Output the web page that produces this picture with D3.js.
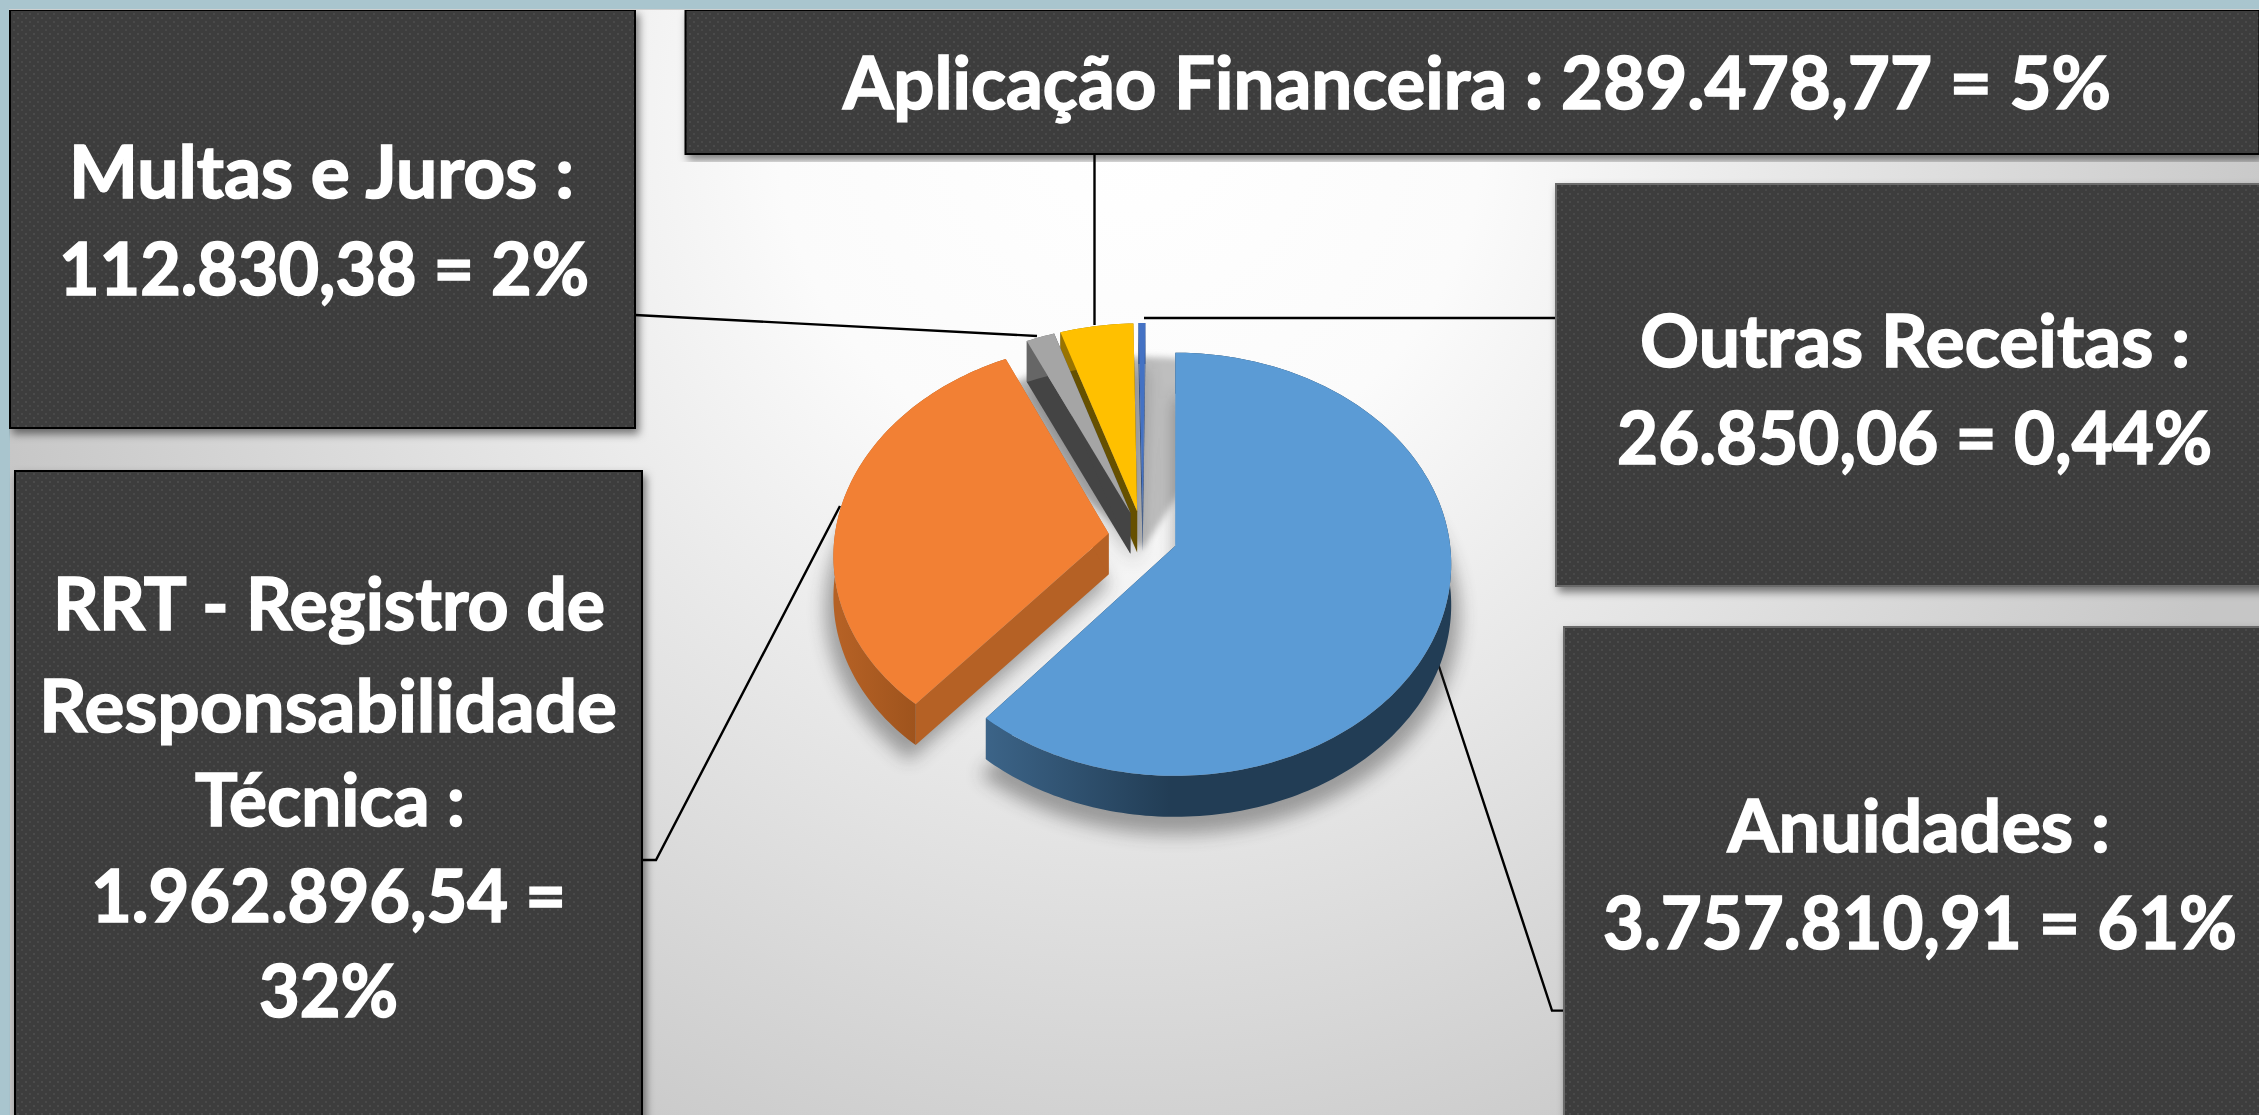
<!DOCTYPE html>
<html><head><meta charset="utf-8">
<script src="https://cdn.jsdelivr.net/npm/d3@7/dist/d3.min.js"></script>
<style>html,body{margin:0;padding:0;background:#a9c5ce;overflow:hidden}svg{display:block}</style>
</head><body><svg id="c" width="2259" height="1115"></svg>
<script>
// ---- data ----
const categories=["Anuidades","RRT - Registro de Responsabilidade Técnica","Multas e Juros","Aplicação Financeira","Outras Receitas"];
const values=[3757810.91,1962896.54,112830.38,289478.77,26850.06];
const percentLabels=["61%","32%","2%","5%","0,44%"];
const topColors=["#5B9BD5","#F28034","#A5A5A5","#FFC000","#4472C4"];
const wallColors=["#223D55","#B56125","#444444","#665000","#2A4A80"];
const outerColors=["url(#gBlue)","url(#gOrange)","#666666","#997300","#2A4A80"];

// ---- layout ----
const W=2259,H=1115;
const svg=d3.select("#c");
const defs=svg.append("defs");
const fmt=d3.formatLocale({decimal:",",thousands:".",grouping:[3],currency:["",""]}).format(",.2f");
const vs=values.map(fmt);

const cx=1177,cy=546,a=275,b=210,k=0.0862,depth=41,explode=0.126,c0=[-0.125,-0.043];
const project=(u,w,dy=0)=>{const den=1-k*w;return [cx+a*u/den,cy+b*w/den+dy];};
const line=d3.line();
const pie=d3.pie().sort(null).value(d=>d)(values);

function arcPts(s,e,o,dy,r=1){
  const n=Math.max(2,Math.ceil((e-s)/0.02));
  return d3.range(n+1).map(i=>{const t=s+(e-s)*i/n;return project(o[0]+r*Math.sin(t),o[1]-r*Math.cos(t),dy);});
}
const off=d=>{const m=(d.startAngle+d.endAngle)/2;return [c0[0]+explode*Math.sin(m),c0[1]-explode*Math.cos(m)];};

// gradients, filters, pattern
const bg=defs.append("radialGradient").attr("id","bg").attr("gradientUnits","userSpaceOnUse")
  .attr("cx",1130).attr("cy",120).attr("r",1180);
bg.append("stop").attr("offset",0).attr("stop-color","#ffffff");
bg.append("stop").attr("offset",0.3).attr("stop-color","#fbfbfb");
bg.append("stop").attr("offset",1).attr("stop-color","#c6c6c6");
const gb=defs.append("linearGradient").attr("id","gBlue").attr("gradientUnits","userSpaceOnUse")
  .attr("x1",985).attr("x2",1170).attr("y1",0).attr("y2",0);
gb.append("stop").attr("offset",0).attr("stop-color","#3C6488");
gb.append("stop").attr("offset",1).attr("stop-color","#223D55");
const go=defs.append("linearGradient").attr("id","gOrange").attr("gradientUnits","userSpaceOnUse")
  .attr("x1",840).attr("x2",925).attr("y1",0).attr("y2",0);
go.append("stop").attr("offset",0).attr("stop-color","#B56125");
go.append("stop").attr("offset",1).attr("stop-color","#9C521C");
defs.append("filter").attr("id","blur").attr("x","-20%").attr("y","-20%").attr("width","140%").attr("height","140%")
  .append("feGaussianBlur").attr("stdDeviation",9);
defs.append("filter").attr("id","blur2").attr("x","-20%").attr("y","-20%").attr("width","140%").attr("height","140%")
  .append("feGaussianBlur").attr("stdDeviation",3);
const ds=defs.append("filter").attr("id","boxShadow").attr("x","-5%").attr("y","-5%").attr("width","110%").attr("height","110%");
ds.append("feDropShadow").attr("dx",3).attr("dy",5).attr("stdDeviation",4).attr("flood-color","#000").attr("flood-opacity",0.5);
const pat=defs.append("pattern").attr("id","dots").attr("patternUnits","userSpaceOnUse").attr("width",8).attr("height",8);
pat.append("rect").attr("width",8).attr("height",8).attr("fill","#3E3E3E");
pat.append("rect").attr("x",1).attr("y",1).attr("width",2).attr("height",2).attr("fill","#4B4B4B");
pat.append("rect").attr("x",5).attr("y",5).attr("width",2).attr("height",2).attr("fill","#484848");

// background
svg.append("rect").attr("width",W).attr("height",H).attr("fill","#A9C5CE");
svg.append("rect").attr("x",10).attr("y",9).attr("width",W-10).attr("height",H-9).attr("fill","#cfcfcf");
svg.append("rect").attr("x",10).attr("y",10).attr("width",W-10).attr("height",H-10).attr("fill","url(#bg)");

// leaders
const leaders=[
  [[635,315],[1037,336]],
  [[1094.5,154],[1094.5,325]],
  [[1556,318],[1144,318]],
  [[642,860],[656,860],[840,506]],
  [[1437.5,662],[1552,1010.6],[1564,1010.6]]
];
svg.append("g").selectAll("path").data(leaders).join("path")
  .attr("d",d=>line(d)).attr("fill","none").attr("stroke","#000").attr("stroke-width",2.4);

// shadows
const sh=svg.append("g");
sh.append("path").attr("d",line(arcPts(-0.72,0.45,c0,12).concat([project(c0[0],c0[1],12)]))+"Z")
  .attr("fill","#BEBEBE").attr("filter","url(#blur2)");
sh.append("g").attr("filter","url(#blur)").attr("opacity",0.42).selectAll("path").data(pie).join("path")
  .attr("d",d=>{
    const o=off(d);
    const pts=arcPts(d.startAngle,d.endAngle,o,depth+10,1.03).concat([project(o[0],o[1],depth+10)]);
    return line(pts)+"Z";
  }).attr("fill","#333");

// slices: back to front
const drawOrder=[4,3,2,1,0];
const gSlices=svg.append("g").selectAll("g").data(drawOrder.map(i=>({...pie[i],idx:i}))).join("g");
gSlices.each(function(d){
  const g=d3.select(this),o=off(d),i=d.idx;
  const top=arcPts(d.startAngle,d.endAngle,o,0),bot=arcPts(d.startAngle,d.endAngle,o,depth);
  const ap=project(o[0],o[1],0),apB=project(o[0],o[1],depth);
  // radial walls
  [[top[0],bot[0]],[top[top.length-1],bot[bot.length-1]]].forEach(e=>{
    g.append("path").attr("d",line([ap,e[0],e[1],apB])+"Z").attr("fill",wallColors[i]);
  });
  // outer wall
  g.append("path").attr("d",line(top.concat(bot.slice().reverse()))+"Z").attr("fill",outerColors[i]);
  // top face
  g.append("path").attr("d",line(top.concat([ap]))+"Z").attr("fill",topColors[i]);
});

// boxes
const boxes=[
  {x:10,y:10,w:625,h:418,s:"#000"},
  {x:685.5,y:10,w:W-685,h:144,s:"#000"},
  {x:15,y:471,w:627,h:H+20-471,s:"#000"},
  {x:1556,y:184,w:W-1556+10,h:402,s:"#6a6a6a"},
  {x:1564,y:627,w:W-1564+10,h:H+20-627,s:"#6a6a6a"}
];
svg.append("g").selectAll("rect").data(boxes).join("rect")
  .attr("x",d=>d.x).attr("y",d=>d.y).attr("width",d=>d.w).attr("height",d=>d.h)
  .attr("fill","url(#dots)").attr("stroke",d=>d.s).attr("stroke-width",2).attr("filter","url(#boxShadow)");
// keep frame clean on top
svg.append("rect").attr("width",W).attr("height",9).attr("fill","#A9C5CE");
svg.append("rect").attr("y",9).attr("width",W).attr("height",1).attr("fill","#cfcfcf");
svg.append("rect").attr("width",9).attr("height",H).attr("fill","#A9C5CE");

// labels (text composed from data)
const labelRows=[
  {t:`${categories[2]} :`,x0:69,x1:574,y:198},
  {t:`${vs[2]} = ${percentLabels[2]}`,x0:59,x1:589,y:295},
  {t:`${categories[3]} : ${vs[3]} = ${percentLabels[3]}`,x0:843,x1:2111,y:109},
  {t:`${categories[4]} :`,x0:1640,x1:2190,y:367},
  {t:`${vs[4]} = ${percentLabels[4]}`,x0:1617,x1:2212,y:464},
  {t:`${categories[0]} :`,x0:1727.5,x1:2110,y:852},
  {t:`${vs[0]} = ${percentLabels[0]}`,x0:1603,x1:2237,y:949},
  {t:"RRT - Registro de",x0:53,x1:605,y:630},
  {t:"Responsabilidade",x0:39,x1:617,y:732},
  {t:"Técnica :",x0:195,x1:465,y:826},
  {t:`${vs[1]} =`,x0:91,x1:566,y:922},
  {t:percentLabels[1],x0:259,x1:398,y:1017}
];
svg.append("g").selectAll("text").data(labelRows).join("text")
  .attr("x",d=>d.x0).attr("y",d=>d.y).text(d=>d.t)
  .attr("textLength",d=>d.x1-d.x0).attr("lengthAdjust","spacingAndGlyphs")
  .attr("font-family","Lato, 'Open Sans', sans-serif").attr("font-weight",700).attr("font-size",72)
  .attr("fill","#fff").attr("stroke","#fff").attr("stroke-width",1.6);
</script></body></html>
